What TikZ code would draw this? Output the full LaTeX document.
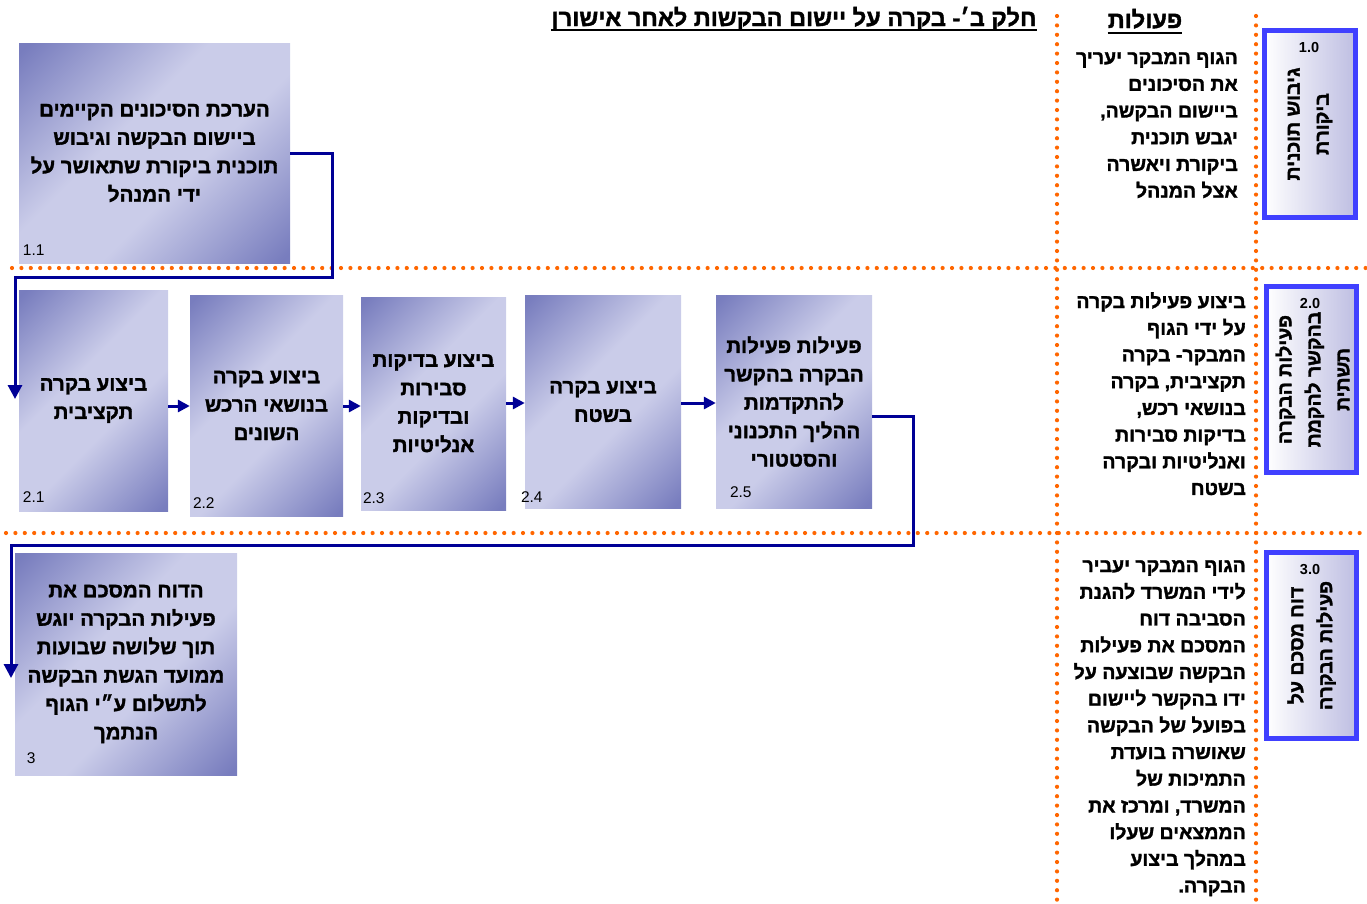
\documentclass[tikz,border=0pt]{standalone}
\usepackage{fontspec}
\setmainfont{Liberation Sans}
\newfontfamily\heb[Script=Hebrew, FakeBold=1.6]{Liberation Sans}
\TeXXeTstate=1
\usetikzlibrary{arrows.meta,calc}
\newcommand\RL[1]{\beginR#1\endR}
\definecolor{navy}{RGB}{0,0,150}
\definecolor{dotor}{RGB}{255,102,0}
\definecolor{pdk}{RGB}{120,125,190}
\definecolor{plt}{RGB}{202,204,233}
\definecolor{stblue}{RGB}{64,64,255}
\definecolor{stfill}{RGB}{190,190,226}
\pgfdeclarehorizontalshading{procshade}{100bp}{color(0bp)=(pdk); color(16bp)=(pdk); color(42bp)=(plt); color(58bp)=(plt); color(84bp)=(pdk); color(100bp)=(pdk)}
\tikzset{
  proc/.style={shading=procshade, shading angle=-45, inner sep=0pt, align=center,
    font=\heb\bfseries\fontsize{20.5}{28.4}\selectfont},
  num/.style={inner sep=0pt, font=\fontsize{15.5}{16}\selectfont},
  stage/.style={draw=stblue, line width=5pt, left color=white, right color=stfill, inner sep=0pt},
  stnum/.style={inner sep=0pt, font=\bfseries\fontsize{14.5}{15}\selectfont},
  sttext/.style={inner sep=0pt, align=center, rotate=90,
    font=\heb\bfseries\fontsize{19.5}{29}\selectfont},
  coltext/.style={inner sep=0pt, align=right, anchor=north east,
    font=\heb\bfseries\fontsize{19.5}{26.7}\selectfont},
  conn/.style={draw=navy, line width=3pt},
  bigtip/.style={-{Triangle[length=14pt,width=14pt]}},
  smalltip/.style={-{Triangle[length=12pt,width=12pt]}},
  dotline/.style={draw=dotor, line width=4.2pt, line cap=round, dash pattern=on 0pt off 9.4pt},
  heading/.style={inner sep=0pt, anchor=base, font=\heb\bfseries\fontsize{23.5}{26}\selectfont}
}
\begin{document}
\begin{tikzpicture}[x=1pt,y=-1pt]
\useasboundingbox (0,0) rectangle (1367,903);
% lane separators
\draw[dotline] (1057,16) -- (1057,903);
\draw[dotline] (1256,16) -- (1256,903);
\draw[dotline] (12,268) -- (1367,268);
\draw[dotline] (6,533) -- (1367,533);
% headings
\node[heading] (title) at (794,26) {\RL{חלק ב׳- בקרה על יישום הבקשות לאחר אישורן}};
\draw[line width=2pt] ($(title.base west)+(0,3.5)$) -- ($(title.base east)+(0,3.5)$);
\node[heading] (acts) at (1145,28) {\RL{פעולות}};
\draw[line width=2pt] ($(acts.base west)+(0,4.5)$) -- ($(acts.base east)+(0,4.5)$);
% process boxes
\node[proc, minimum width=271pt, minimum height=220pt] (b11) at (154.5,153)
  {\RL{הערכת הסיכונים הקיימים}\\\RL{ביישום הבקשה וגיבוש}\\\RL{תוכנית ביקורת שתאושר על}\\\RL{ידי המנהל}};
\node[proc, minimum width=149pt, minimum height=221pt] (b21) at (93.5,400.5)
  {\RL{ביצוע בקרה}\\\RL{תקציבית}};
\node[proc, minimum width=153pt, minimum height=221pt] (b22) at (266.5,405.5)
  {\RL{ביצוע בקרה}\\\RL{בנושאי הרכש}\\\RL{השונים}};
\node[proc, minimum width=145pt, minimum height=213pt] (b23) at (433.5,403.5)
  {\RL{ביצוע בדיקות}\\\RL{סבירות}\\\RL{ובדיקות}\\\RL{אנליטיות}};
\node[proc, minimum width=156pt, minimum height=213pt] (b24) at (603,401.5)
  {\RL{ביצוע בקרה}\\\RL{בשטח}};
\node[proc, minimum width=156pt, minimum height=213pt] (b25) at (794,401.5)
  {\RL{פעילות פעילות}\\\RL{הבקרה בהקשר}\\\RL{להתקדמות}\\\RL{ההליך התכנוני}\\\RL{והסטטורי}};
\node[proc, minimum width=222pt, minimum height=222pt] (b3) at (126,664)
  {\RL{הדוח המסכם את}\\\RL{פעילות הבקרה יוגש}\\\RL{תוך שלושה שבועות}\\\RL{ממועד הגשת הבקשה}\\\RL{לתשלום ע״י הגוף}\\\RL{הנתמך}};
% box numbers
\node[num, anchor=base west] at ($(b11.south west)+(4,-8)$) {1.1};
\node[num, anchor=base west] at ($(b21.south west)+(4,-9)$) {2.1};
\node[num, anchor=base west] at ($(b22.south west)+(3,-8)$) {2.2};
\node[num, anchor=base west] at ($(b23.south west)+(2,-7)$) {2.3};
\node[num, anchor=base west] at ($(b24.south west)+(-4,-6)$) {2.4};
\node[num, anchor=base west] at ($(b25.south west)+(14,-11)$) {2.5};
\node[num, anchor=base west] at ($(b3.south west)+(12,-12)$) {3};
% connectors
\coordinate (k1) at (332,277);
\coordinate (k1e) at (15,399);
\draw[conn,bigtip] (b11.east) -| (k1) -| (k1e);
\draw[conn,smalltip] (b21.east |- 0,406) -- (b22.west |- 0,406);
\draw[conn,smalltip] (b22.east |- 0,406) -- (b23.west |- 0,406);
\draw[conn,smalltip] (b23.east |- 0,403) -- (b24.west |- 0,403);
\draw[conn,smalltip] (b24.east |- 0,403) -- (b25.west |- 0,403);
\coordinate (k2) at (913,545);
\coordinate (k2e) at (11,678);
\draw[conn,bigtip] ($(b25.east)+(0,14.5)$) -| (k2) -| (k2e);
% actions column
\node[coltext] (a1) at (1238,52)
  {\RL{הגוף המבקר יעריך}\\\RL{את הסיכונים}\\\RL{ביישום הבקשה,}\\\RL{יגבש תוכנית}\\\RL{ביקורת ויאשרה}\\\RL{אצל המנהל}};
\node[coltext] (a2) at (1246,292)
  {\RL{ביצוע פעילות בקרה}\\\RL{על ידי הגוף}\\\RL{המבקר- בקרה}\\\RL{תקציבית, בקרה}\\\RL{בנושאי רכש,}\\\RL{בדיקות סבירות}\\\RL{ואנליטיות ובקרה}\\\RL{בשטח}};
\node[coltext] (a3) at (1246,560)
  {\RL{הגוף המבקר יעביר}\\\RL{לידי המשרד להגנת}\\\RL{הסביבה דוח}\\\RL{המסכם את פעילות}\\\RL{הבקשה שבוצעה על}\\\RL{ידו בהקשר ליישום}\\\RL{בפועל של הבקשה}\\\RL{שאושרה בועדת}\\\RL{התמיכות של}\\\RL{המשרד, ומרכז את}\\\RL{הממצאים שעלו}\\\RL{במהלך ביצוע}\\\RL{הבקרה.}};
% stage boxes
\node[stage, minimum width=91pt, minimum height=187pt] (s1) at (1310,124) {};
\node[stnum] at (1309,48) {1.0};
\node[sttext] at (s1.center) {\RL{גיבוש תוכנית}\\\RL{ביקורת}};
\node[stage, minimum width=90pt, minimum height=186pt] (s2) at (1311.5,379.5) {};
\node[stnum] at (1310,303) {2.0};
\node[sttext] at ($(s2.center)+(1,0)$) {\RL{פעילות הבקרה}\\\RL{בהקשר להקמת}\\\RL{תשתית}};
\node[stage, minimum width=90pt, minimum height=186pt] (s3) at (1311.5,645.5) {};
\node[stnum] at (1310,570) {3.0};
\node[sttext] at (s3.center) {\RL{דוח מסכם על}\\\RL{פעילות הבקרה}};
\end{tikzpicture}
\end{document}
